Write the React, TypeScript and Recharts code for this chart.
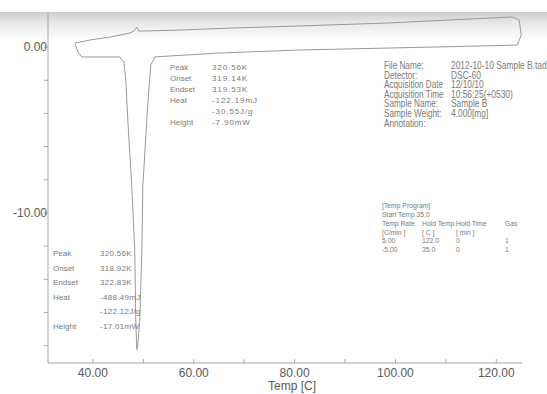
import React from 'react';
import { LineChart, Line, XAxis, YAxis } from 'recharts';

// DSC trace (Temp in C, heat flow in mW), traced as one closed loop:
// heating branch left to right, then the cooling branch back through the peak.
const temps = [
  36.44, 39.41, 43.37, 47.33, 48.12, 48.71, 49.11, 49.7, 57.23, 67.13, 80.99, 98.81, 110.69, 123.17,
  124.55, 124.95, 124.16,
  116.63, 98.81, 80.99, 65.15, 55.25, 52.28,
  51.49, 51.09, 50.69, 49.9, 49.7, 49.31, 48.91, 48.71,
  48.51, 48.32, 47.72, 46.93, 46.53, 46.14, 45.35,
  41.39, 37.82, 37.03, 36.44,
];
const heatFlow = [
  0.24, 0.42, 0.6, 0.84, 0.96, 1.2, 0.96, 0.96, 1.02, 1.14, 1.27, 1.45, 1.63, 1.81,
  1.63, 0.72, 0.12,
  0.06, -0.06, -0.18, -0.36, -0.54, -0.6,
  -1.08, -2.59, -4.4, -8.43, -12.41, -16.45, -17.95, -18.25,
  -16.45, -12.41, -8.43, -4.4, -1.99, -0.9, -0.6,
  -0.6, -0.6, -0.3, 0.24,
];

const xTicks = [40, 50, 60, 70, 80, 90, 100, 110, 120];
const xLabelled = [40, 60, 80, 100, 120];
const yTicks = [-18, -16, -14, -12, -10, -8, -6, -4, -2, 0];
const yLabelled = [0, -10];

// Peak analysis blocks
const peakLabels = ['Peak', 'Onset', 'Endset', 'Heat', '', 'Height'];
const upperPeakValues = ['320.56K', '319.14K', '319.53K', '-122.19mJ', '-30.55J/g', '-7.90mW'];
const lowerPeakValues = ['320.56K', '318.92K', '322.83K', '-488.49mJ', '-122.12J/g', '-17.01mW'];

// File information
const infoLabels = ['File Name:', 'Detector:', 'Acquisition Date', 'Acquisition Time', 'Sample Name:', 'Sample Weight:', 'Annotation:'];
const infoValues = ['2012-10-10 Sample B.tad', 'DSC-60', '12/10/10', '10:56:25(+0530)', 'Sample B', '4.000[mg]', ''];

// Temperature program
const programRows = [
  ['Temp Rate', 'Hold Temp', 'Hold Time', 'Gas'],
  ['[C/min ]', '[ C ]', '[ min ]', ''],
  ['5.00', '122.0', '0', '1'],
  ['-5.00', '35.0', '0', '1'],
];

const data = temps.map((t, i) => ({ t, mw: heatFlow[i] }));

const AXIS = '#a8a8a8';
const TEXT = '#7a7a7a';
const PLOT_TOP = 13;
const PLOT_BOTTOM = 363;
const PLOT_LEFT = 48;

const XTick = (props: any) => {
  const { x, payload } = props;
  const v = payload.value as number;
  return (
    <g>
      <line x1={x} x2={x} y1={PLOT_BOTTOM} y2={PLOT_BOTTOM - 4} stroke={AXIS} strokeWidth={1} />
      {xLabelled.includes(v) && (
        <text x={x} y={PLOT_BOTTOM + 14} textAnchor="middle" fontSize={12} fill="#5a5a5a"
          fontFamily="'Liberation Sans', Arial, sans-serif">{v.toFixed(2)}</text>
      )}
    </g>
  );
};

const YTick = (props: any) => {
  const { y, payload } = props;
  const v = payload.value as number;
  return (
    <g>
      <line x1={PLOT_LEFT} x2={PLOT_LEFT - 4} y1={y} y2={y} stroke={AXIS} strokeWidth={1} />
      {yLabelled.includes(v) && (
        <text x={PLOT_LEFT - 1} y={y + 4} textAnchor="end" fontSize={12} fill="#5a5a5a"
          fontFamily="'Liberation Sans', Arial, sans-serif">{v.toFixed(2)}</text>
      )}
    </g>
  );
};

const font = "'Liberation Sans', Arial, sans-serif";

function PeakBlock({ x, y, valueX, step, values, size, spacing }: any) {
  return (
    <g fontFamily={font} fontSize={size} fill={TEXT}>
      {peakLabels.map((lab, i) => (
        <g key={i}>
          <text x={x} y={y + i * step}>{lab}</text>
          <text x={valueX} y={y + i * step} letterSpacing={spacing}>{values[i]}</text>
        </g>
      ))}
    </g>
  );
}

export default function App() {
  return (
    <div style={{ position: 'absolute', left: 0, top: 0, width: 547, height: 394, background: '#fff', overflow: 'hidden' }}>
      <div style={{ position: 'absolute', left: 0, top: 12, width: 547, height: 28,
        background: 'linear-gradient(#cdcdcd, #e6e6e6 35%, #ffffff)' }} />
      <div style={{ position: 'absolute', left: 0, top: 0 }}>
        <LineChart width={547} height={394} data={data}
          margin={{ top: PLOT_TOP, right: 25, bottom: 0, left: 8 }}>
          <XAxis dataKey="t" type="number" domain={[31.1, 125.1]} allowDataOverflow
            ticks={xTicks} tick={<XTick />} tickLine={false} height={31}
            axisLine={{ stroke: AXIS }} interval={0} />
          <YAxis type="number" domain={[-19.04, 2.05]} allowDataOverflow ticks={yTicks}
            tick={<YTick />} tickLine={false} width={40} axisLine={{ stroke: AXIS }} interval={0} />
          <Line type="linear" dataKey="mw" stroke="#9a9a9a" strokeWidth={1} dot={false}
            isAnimationActive={false} />
        </LineChart>
      </div>
      <svg width={547} height={394} style={{ position: 'absolute', left: 0, top: 0, pointerEvents: 'none' }}>
        <PeakBlock x={170} y={70} valueX={212} step={11} values={upperPeakValues} size={8} spacing={0.9} />
        <PeakBlock x={53} y={256} valueX={100} step={14.5} values={lowerPeakValues} size={8} spacing={0.3} />
        <g fontFamily={font} fontSize={10} fill={TEXT}>
          {infoLabels.map((lab, i) => (
            <g key={i}>
              <text x={0} y={0} transform={`translate(384 ${69 + i * 9.6}) scale(0.82 1)`}>{lab}</text>
              <text x={0} y={0} transform={`translate(451 ${69 + i * 9.6}) scale(0.84 1)`}>{infoValues[i]}</text>
            </g>
          ))}
        </g>
        <g fontFamily={font} fontSize={8} fill={TEXT}>
          <text transform="translate(382 208) scale(0.85 1)">[Temp Program]</text>
          <text transform="translate(382 217) scale(0.85 1)">Start Temp  35.0</text>
          {programRows.map((row, i) => (
            <g key={i}>
              {row.map((cell, j) => (
                <text key={j} transform={`translate(${[382, 422, 456, 505][j]} ${226 + i * 8.5}) scale(0.85 1)`}>{cell}</text>
              ))}
            </g>
          ))}
        </g>
        <text x={292} y={390} textAnchor="middle" fontSize={12} fill="#5a5a5a" fontFamily={font}>Temp [C]</text>
      </svg>
    </div>
  );
}
